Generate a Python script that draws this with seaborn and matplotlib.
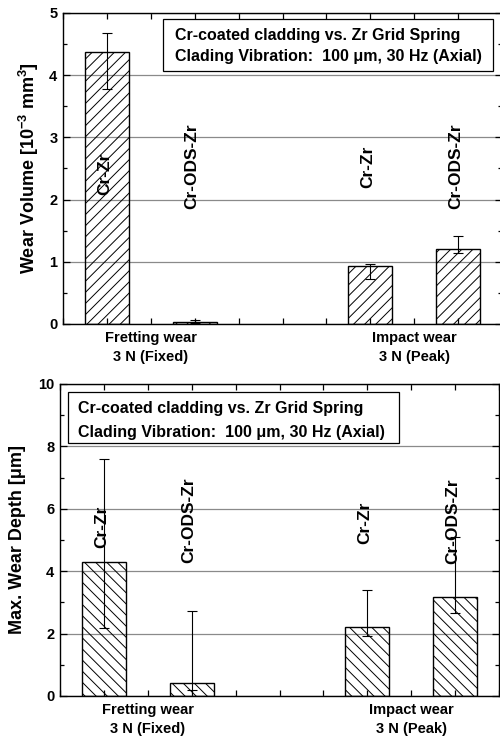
import numpy as np
import pandas as pd
import matplotlib
matplotlib.use("Agg")
import matplotlib.pyplot as plt
from matplotlib.patches import Rectangle
from matplotlib.ticker import MultipleLocator, FixedLocator
import seaborn as sns

# ---------------- data ----------------
groups = ["Fretting wear\n3 N (Fixed)", "Impact wear\n3 N (Peak)"]
materials = ["Cr-Zr", "Cr-ODS-Zr"]
# order: (fretting, Cr-Zr), (fretting, Cr-ODS-Zr), (impact, Cr-Zr), (impact, Cr-ODS-Zr)
bar_group = [groups[0], groups[0], groups[1], groups[1]]
bar_material = [materials[0], materials[1], materials[0], materials[1]]

vol_mean = [4.38, 0.03, 0.925, 1.21]
vol_low = [3.78, 0.01, 0.72, 1.14]
vol_high = [4.68, 0.07, 0.97, 1.41]

depth_mean = [4.31, 0.40, 2.21, 3.16]
depth_low = [2.19, 0.19, 1.93, 2.65]
depth_high = [7.59, 2.71, 3.40, 5.10]

vol_label_y = [2.42, 2.53, 2.53, 2.53]
depth_label_y = [5.42, 5.64, 5.54, 5.60]

box_lines = ["Cr-coated cladding vs. Zr Grid Spring",
             "Clading Vibration:  100 \u03bcm, 30 Hz (Axial)"]

ylabel_vol = r"Wear Volume [10$^{-3}$ mm$^{3}$]"
ylabel_depth = "Max. Wear Depth [\u03bcm]"

# ---------------- style ----------------
plt.rcParams['font.family'] = ['Liberation Sans', 'DejaVu Sans']
plt.rcParams['font.weight'] = 'bold'
plt.rcParams['axes.labelweight'] = 'bold'
plt.rcParams['mathtext.fontset'] = 'custom'
plt.rcParams['mathtext.rm'] = 'Liberation Sans:bold'
plt.rcParams['mathtext.bf'] = 'Liberation Sans:bold'
plt.rcParams['mathtext.it'] = 'Liberation Sans:bold'
plt.rcParams['mathtext.default'] = 'bf'
plt.rcParams['hatch.linewidth'] = 0.7
plt.rcParams['hatch.color'] = 'black'

fig = plt.figure(figsize=(5, 7.4), dpi=100)
ax1 = fig.add_axes([0.126, 0.5622, 0.878, 0.4203])
ax2 = fig.add_axes([0.120, 0.0595, 0.878, 0.4216])


def draw_panel(ax, mean, low, high, label_y, ymax, ystep, hatch, ylabel,
               box_rect, text_x, text_ys, ylabel_x):
    df = pd.DataFrame({"group": bar_group, "material": bar_material, "value": mean})
    sns.barplot(data=df, x="group", y="value", hue="material", order=groups,
                hue_order=materials, width=2 / 3, gap=0.5, errorbar=None,
                palette=["white", "white"], legend=False, ax=ax, zorder=2)
    bars = sorted(ax.patches, key=lambda p: p.get_x())
    xs = []
    for p in bars:
        p.set_facecolor("none")
        p.set_edgecolor("black")
        p.set_linewidth(1.0)
        p.set_hatch(hatch)
        xs.append(p.get_x() + p.get_width() / 2)
    xs = np.array(xs)
    m = np.array(mean)
    yerr = np.vstack([m - np.array(low), np.array(high) - m])
    ax.errorbar(xs, m, yerr=yerr, fmt="none", ecolor="black", elinewidth=0.8,
                capsize=3.5, capthick=0.8, zorder=3)
    for x, y, t in zip(xs, label_y, bar_material):
        ax.text(x - 0.01, y, t, rotation=90, ha="center", va="center",
                fontsize=12.5, fontweight="bold", zorder=5)

    ax.set_xlim(-1 / 3, 4 / 3)
    ax.set_ylim(0, ymax)
    ax.xaxis.set_minor_locator(FixedLocator(np.arange(-1 / 3, 4 / 3 + 1e-6, 1 / 6)))
    ax.yaxis.set_major_locator(MultipleLocator(ystep))
    ax.yaxis.set_minor_locator(MultipleLocator(ystep / 2))
    ax.tick_params(which="both", direction="in", top=True, right=True,
                   width=0.9, color="black")
    ax.tick_params(which="major", length=5, labelsize=10.5, pad=4)
    ax.tick_params(which="minor", length=3)
    ax.tick_params(axis="x", which="both", length=4, pad=5)
    ax.set_xticks([0, 1])
    ax.set_xticklabels(groups, fontsize=10.5, fontweight="bold", linespacing=1.45)
    for lab in ax.get_yticklabels():
        lab.set_fontweight("bold")
    ax.set_xlabel("")
    ax.set_ylabel(ylabel, fontsize=13, fontweight="bold")
    ax.yaxis.set_label_coords(ylabel_x, 0.5)
    ax.grid(axis="y", which="major", color="#8a8a8a", linewidth=0.9, zorder=0)
    ax.set_axisbelow(True)
    for s in ax.spines.values():
        s.set_linewidth(1.0)
        s.set_color("black")

    bx0, by0, bx1, by1 = box_rect
    ax.add_patch(Rectangle((bx0, by0), bx1 - bx0, by1 - by0, transform=ax.transAxes,
                           facecolor="white", edgecolor="black", linewidth=0.9,
                           zorder=4))
    for ty, t in zip(text_ys, box_lines):
        ax.text(text_x, ty, t, transform=ax.transAxes, ha="left", va="center",
                fontsize=11.5, fontweight="bold", zorder=6)


draw_panel(ax1, vol_mean, vol_low, vol_high, vol_label_y, 5, 1, "///",
           ylabel_vol, (0.228, 0.814, 0.980, 0.981), 0.255, (0.929, 0.860), -0.05)
draw_panel(ax2, depth_mean, depth_low, depth_high, depth_label_y, 10, 2, "\\\\\\",
           ylabel_depth, (0.018, 0.811, 0.772, 0.974), 0.041, (0.923, 0.846), -0.078)

fig.savefig("out.png", dpi=100)
